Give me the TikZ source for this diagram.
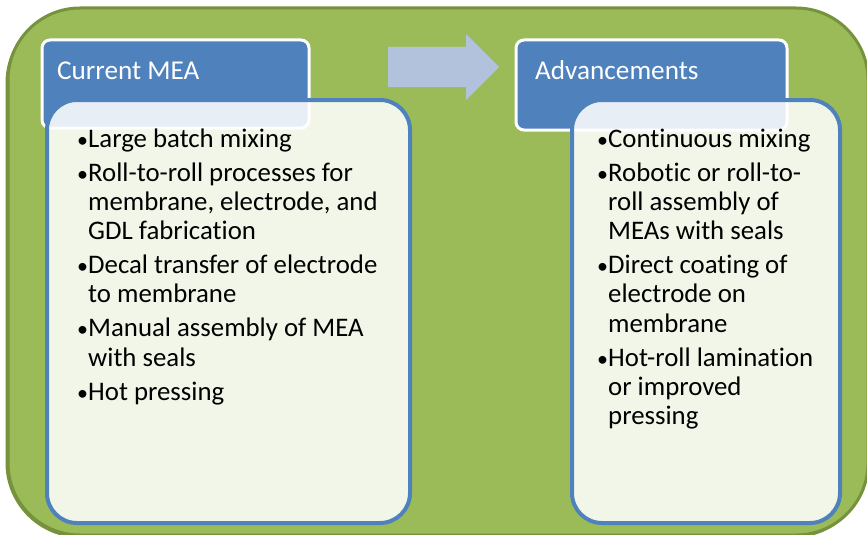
\documentclass[tikz,border=0pt]{standalone}
\usepackage{fontspec}
\setmainfont[Ligatures=NoCommon]{Carlito}
\definecolor{grn}{HTML}{9BBB59}
\definecolor{grndk}{HTML}{76923C}
\definecolor{blu}{HTML}{4F81BD}
\definecolor{arrowblu}{HTML}{B3C2DC}
\tikzset{
  hdr/.style={draw=white, line width=3pt, fill=blu, rounded corners=8pt},
  listbox/.style={draw=blu, line width=4pt, fill=white, fill opacity=0.87, rounded corners=30pt},
  title/.style={anchor=base west, inner sep=0pt, text=white, font=\fontsize{27.2}{29.3}\selectfont},
  listtxt/.style={anchor=base west, inner sep=0pt, font=\fontsize{26.8}{29.3}\selectfont},
}
\newcommand{\bul}{\makebox[11pt][l]{\fontsize{22}{22}\selectfont •}}
\begin{document}
\begin{tikzpicture}[x=1pt, y=-1pt]
\useasboundingbox (0,0) rectangle (867,535);
\clip (0,0) rectangle (867,535);
% outer green panel
\fill[grndk, rounded corners=75pt] (5.5,8) rectangle (868,538);
\draw[grndk, fill=grn, line width=3pt, rounded corners=72pt] (8,8) rectangle (868,535);
% header boxes
\node[hdr, minimum width=267pt, minimum height=88pt] (hdrL) at (175.5,84) {};
\node[hdr, minimum width=271pt, minimum height=90pt] (hdrR) at (651.5,85) {};
% arrow
\path[fill=arrowblu] (388,47) -- (466,47) -- (466,34) -- (499,67) -- (466,100) -- (466,87) -- (388,87) -- cycle;
\coordinate (arrowtip) at (499,67);
% list boxes
\node[listbox, minimum width=363pt, minimum height=423pt] (boxL) at (228.5,311.5) {};
\node[listbox, minimum width=268pt, minimum height=423pt] (boxR) at (706,311.5) {};
% titles
\node[title] (titleL) at (57,80) {Current MEA};
\node[title] (titleR) at (535,80) {Advancements};
% lists
\node[listtxt] (listL) at (77,147) {\begin{tabular}[t]{@{}l@{}}
\bul Large batch mixing\\[4.7pt]
\bul Roll-to-roll processes for\\
\hspace{11pt}membrane, electrode, and\\
\hspace{11pt}GDL fabrication\\[4.7pt]
\bul Decal transfer of electrode\\
\hspace{11pt}to membrane\\[4.7pt]
\bul Manual assembly of MEA\\
\hspace{11pt}with seals\\[4.7pt]
\bul Hot pressing
\end{tabular}};
\node[listtxt] (listR) at (597,147) {\begin{tabular}[t]{@{}l@{}}
\bul Continuous mixing\\[4.7pt]
\bul Robotic or roll-to-\\
\hspace{11pt}roll assembly of\\
\hspace{11pt}MEAs with seals\\[4.7pt]
\bul Direct coating of\\
\hspace{11pt}electrode on\\
\hspace{11pt}membrane\\[4.7pt]
\bul Hot-roll lamination\\
\hspace{11pt}or improved\\
\hspace{11pt}pressing
\end{tabular}};
\end{tikzpicture}
\end{document}
